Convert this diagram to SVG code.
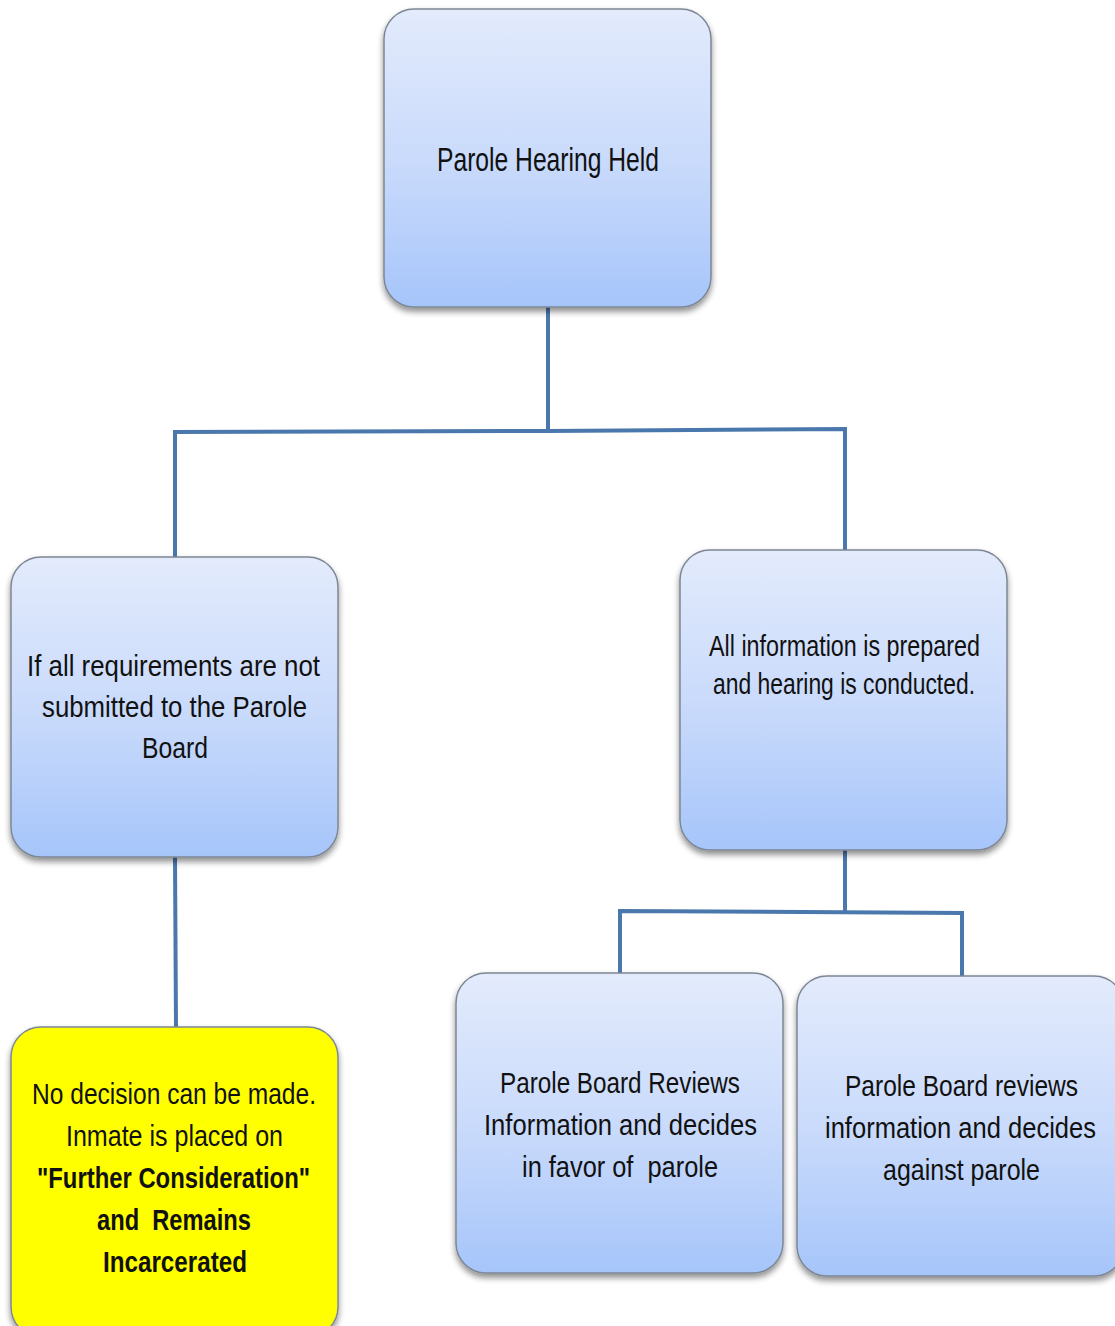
<svg xmlns="http://www.w3.org/2000/svg" width="1115" height="1326" viewBox="0 0 1115 1326">
<defs>
<linearGradient id="blue" x1="0" y1="0" x2="0" y2="1">
<stop offset="0" stop-color="#e3ebfc"/>
<stop offset="0.55" stop-color="#c7d9fb"/>
<stop offset="1" stop-color="#a6c5fa"/>
</linearGradient>
<filter id="sh" x="-10%" y="-10%" width="120%" height="120%">
<feGaussianBlur in="SourceAlpha" stdDeviation="3"/>
<feOffset dx="0" dy="4" result="b"/>
<feComponentTransfer><feFuncA type="linear" slope="0.45"/></feComponentTransfer>
<feMerge><feMergeNode/><feMergeNode in="SourceGraphic"/></feMerge>
</filter>
</defs>
<style>
.box{fill:url(#blue);stroke:#7d8794;stroke-width:1.5;filter:url(#sh)}
.ybox{fill:#ffff00;stroke:#7d8794;stroke-width:1.5;filter:url(#sh)}
text{font-family:"Liberation Sans",Arial,sans-serif;fill:#111;text-anchor:start}
.t{font-size:29px}
.b{font-size:29px;font-weight:bold}
.c{fill:none;stroke:#4a78ad;stroke-width:4}
</style>
<g id="connectors">
<polyline class="c" points="548,307 548,431"/>
<polyline class="c" points="175,557 175,432 548,431 845,429 845,550"/>
<polyline class="c" points="175,857 176,1027"/>
<polyline class="c" points="845,850 845,911"/>
<polyline class="c" points="620,973 620,911 962,913 962,976"/>
</g>
<g id="n1">
<rect class="box" x="384" y="9" width="327" height="298" rx="30"/>
<text x="437" y="171" style="font-size:33px" textLength="222" lengthAdjust="spacingAndGlyphs">Parole Hearing Held</text>
</g>
<g id="n2">
<rect class="box" x="11" y="557" width="327" height="300" rx="30"/>
<text class="t" x="27" y="676" textLength="293" lengthAdjust="spacingAndGlyphs">If all requirements are not</text>
<text class="t" x="42" y="717" textLength="265" lengthAdjust="spacingAndGlyphs">submitted to the Parole</text>
<text class="t" x="142" y="758" textLength="66" lengthAdjust="spacingAndGlyphs">Board</text>
</g>
<g id="n3">
<rect class="box" x="680" y="550" width="327" height="300" rx="30"/>
<text class="t" x="709" y="656" textLength="271" lengthAdjust="spacingAndGlyphs">All information is prepared</text>
<text class="t" x="713" y="694" textLength="262" lengthAdjust="spacingAndGlyphs">and hearing is conducted.</text>
</g>
<g id="n4">
<rect class="ybox" x="11" y="1027" width="327" height="310" rx="30"/>
<text class="t" x="32" y="1104" textLength="284" lengthAdjust="spacingAndGlyphs">No decision can be made.</text>
<text class="t" x="66" y="1146" textLength="217" lengthAdjust="spacingAndGlyphs">Inmate is placed on</text>
<text class="b" x="37" y="1188" textLength="273" lengthAdjust="spacingAndGlyphs">"Further Consideration"</text>
<text class="b" x="97" y="1230" textLength="154" lengthAdjust="spacingAndGlyphs" xml:space="preserve">and  Remains</text>
<text class="b" x="103" y="1272" textLength="144" lengthAdjust="spacingAndGlyphs">Incarcerated</text>
</g>
<g id="n5">
<rect class="box" x="456" y="973" width="327" height="300" rx="30"/>
<text class="t" x="500" y="1093" textLength="240" lengthAdjust="spacingAndGlyphs">Parole Board Reviews</text>
<text class="t" x="484" y="1135" textLength="273" lengthAdjust="spacingAndGlyphs">Information and decides</text>
<text class="t" x="522" y="1177" textLength="196" lengthAdjust="spacingAndGlyphs" xml:space="preserve">in favor of  parole</text>
</g>
<g id="n6">
<rect class="box" x="797" y="976" width="327" height="300" rx="30"/>
<text class="t" x="845" y="1096" textLength="233" lengthAdjust="spacingAndGlyphs">Parole Board reviews</text>
<text class="t" x="825" y="1138" textLength="271" lengthAdjust="spacingAndGlyphs">information and decides</text>
<text class="t" x="883" y="1180" textLength="157" lengthAdjust="spacingAndGlyphs">against parole</text>
</g>
</svg>
